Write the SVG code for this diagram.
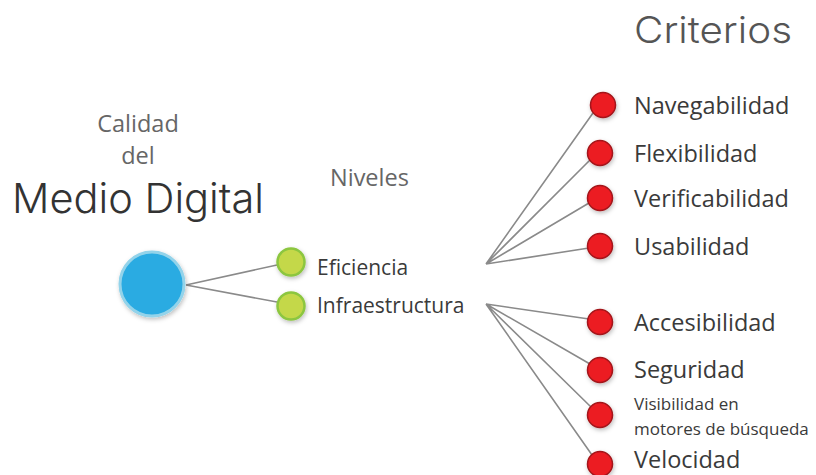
<svg xmlns="http://www.w3.org/2000/svg" width="816" height="475" viewBox="0 0 816 475">
  <defs>
    <filter id="shadow" x="-50%" y="-50%" width="200%" height="200%">
      <feDropShadow dx="1" dy="2" stdDeviation="2" flood-color="#000" flood-opacity="0.25"/>
    </filter>
    <style>
      .edge { stroke: #8a8a8a; stroke-width: 1.6; fill: none; }
      .root { fill: #29abe2; stroke: #93d3ea; stroke-width: 3; filter: url(#shadow); }
      .level { fill: #c4d84a; stroke: #8cc63f; stroke-width: 2.5; filter: url(#shadow); }
      .crit { fill: #ec1c24; stroke: #a3141a; stroke-width: 1.5; filter: url(#shadow); }
      .lbl { font-family: "Open Sans", "Liberation Sans", sans-serif; fill: #3a3a3a; }
      .sub { font-family: "Open Sans", "Liberation Sans", sans-serif; fill: #666; font-size: 23.5px; }
      .crit-lbl { font-size: 23.5px; }
      .head { font-family: "Inter", "DejaVu Sans", sans-serif; font-weight: 300; }
    </style>
  </defs>
  <rect width="816" height="475" fill="#fff"/>

  <!-- headings -->
  <g id="titles">
    <text class="sub" x="138" y="132" text-anchor="middle">Calidad</text>
    <text class="sub" x="138" y="164" text-anchor="middle">del</text>
    <text class="head" x="12" y="213" font-size="41" fill="#333" textLength="252" lengthAdjust="spacingAndGlyphs">Medio Digital</text>
    <text class="sub" x="330" y="186">Niveles</text>
    <text class="head" x="634" y="43" font-size="37" fill="#555" textLength="158" lengthAdjust="spacingAndGlyphs">Criterios</text>
  </g>

  <!-- connectors -->
  <g id="connectors">
    <path class="edge" d="M186 285 L277 265 M186 285 L277 302"/>
    <path class="edge" d="M486 264 L593 113 M486 264 L590 160 M486 264 L589 203 M486 264 L589 248"/>
    <path class="edge" d="M486 304 L589 319 M486 304 L590 364 M486 304 L591 407 M486 304 L592 455"/>
  </g>

  <!-- root -->
  <g id="medio-digital"><circle class="root" cx="152" cy="284" r="32"/></g>

  <!-- levels -->
  <g id="eficiencia">
    <circle class="level" cx="291" cy="262" r="13.5"/>
    <text class="lbl" x="317" y="275" font-size="21">Eficiencia</text>
  </g>
  <g id="infraestructura">
    <circle class="level" cx="291" cy="306" r="13.5"/>
    <text class="lbl" x="317" y="313" font-size="21">Infraestructura</text>
  </g>

  <!-- criteria -->
  <g id="navegabilidad">
    <circle class="crit" cx="603" cy="105" r="12.5"/>
    <text class="lbl crit-lbl" x="634" y="114">Navegabilidad</text>
  </g>
  <g id="flexibilidad">
    <circle class="crit" cx="600" cy="153" r="12.5"/>
    <text class="lbl crit-lbl" x="634" y="162">Flexibilidad</text>
  </g>
  <g id="verificabilidad">
    <circle class="crit" cx="600" cy="198" r="12.5"/>
    <text class="lbl crit-lbl" x="634" y="207">Verificabilidad</text>
  </g>
  <g id="usabilidad">
    <circle class="crit" cx="600" cy="246" r="12.5"/>
    <text class="lbl crit-lbl" x="634" y="255">Usabilidad</text>
  </g>
  <g id="accesibilidad">
    <circle class="crit" cx="600" cy="322" r="12.5"/>
    <text class="lbl crit-lbl" x="634" y="331">Accesibilidad</text>
  </g>
  <g id="seguridad">
    <circle class="crit" cx="600" cy="370" r="12.5"/>
    <text class="lbl crit-lbl" x="634" y="378">Seguridad</text>
  </g>
  <g id="visibilidad">
    <circle class="crit" cx="600" cy="415" r="12.5"/>
    <text class="lbl" x="634" y="410" font-size="17">Visibilidad en</text>
    <text class="lbl" x="634" y="435" font-size="17">motores de búsqueda</text>
  </g>
  <g id="velocidad">
    <circle class="crit" cx="600" cy="464" r="12.5"/>
    <text class="lbl crit-lbl" x="634" y="468">Velocidad</text>
  </g>
</svg>
